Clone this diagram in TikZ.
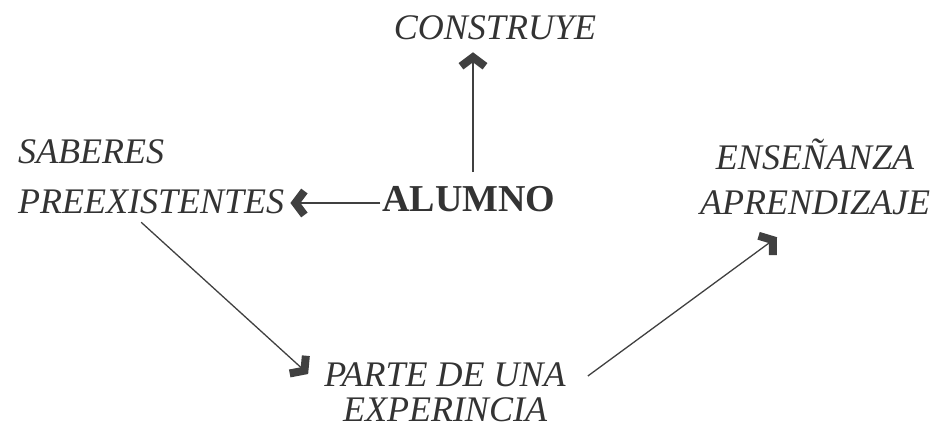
\documentclass[tikz,border=0pt]{standalone}
\usepackage{fontspec}
\setmainfont{Liberation Serif}
\usetikzlibrary{arrows.meta}
\tikzset{
    lbl/.style={font=\fontsize{36}{40}\selectfont\itshape, text=black!80, inner sep=2pt},
    arr/.style={draw=black!75, line width=1.3pt,
        -{Straight Barb[length=9pt,width=24pt,line width=8pt]}}
}
\begin{document}
\begin{tikzpicture}[x=1pt,y=-1pt]
    \useasboundingbox (0,0) rectangle (943,430);

    \node[lbl] (construye) at (495,28) {CONSTRUYE};
    \node[lbl, font=\fontsize{38}{40}\selectfont\bfseries] (alumno) at (469,199) {ALUMNO};
    \node[lbl, anchor=west, align=left, font=\fontsize{36}{50}\selectfont\itshape] (saberes) at (16,177) {SABERES\\PREEXISTENTES};
    \node[lbl, align=center, font=\fontsize{36}{45}\selectfont\itshape] (ensenanza) at (815,177) {ENSEÑANZA\\APRENDIZAJE};
    \node[lbl, align=center, font=\fontsize{36}{35}\selectfont\itshape] (parte) at (445,392) {PARTE DE UNA\\EXPERINCIA};

    \draw[arr] ([xshift=4pt,yshift=12pt]alumno.north) -- ([xshift=-22pt,yshift=-10pt]construye.south);
    \draw[arr] ([yshift=-4pt]alumno.west) -- ([yshift=-4pt,xshift=4pt]alumno.west -| saberes.east);
    \draw[arr] ([xshift=-10pt,yshift=-6pt]saberes.south) -- ([xshift=-14pt,yshift=18pt]parte.west);
    \draw[arr] ([xshift=20pt,yshift=16pt]parte.east) -- ([xshift=-38pt,yshift=-20pt]ensenanza.south);
\end{tikzpicture}
\end{document}
